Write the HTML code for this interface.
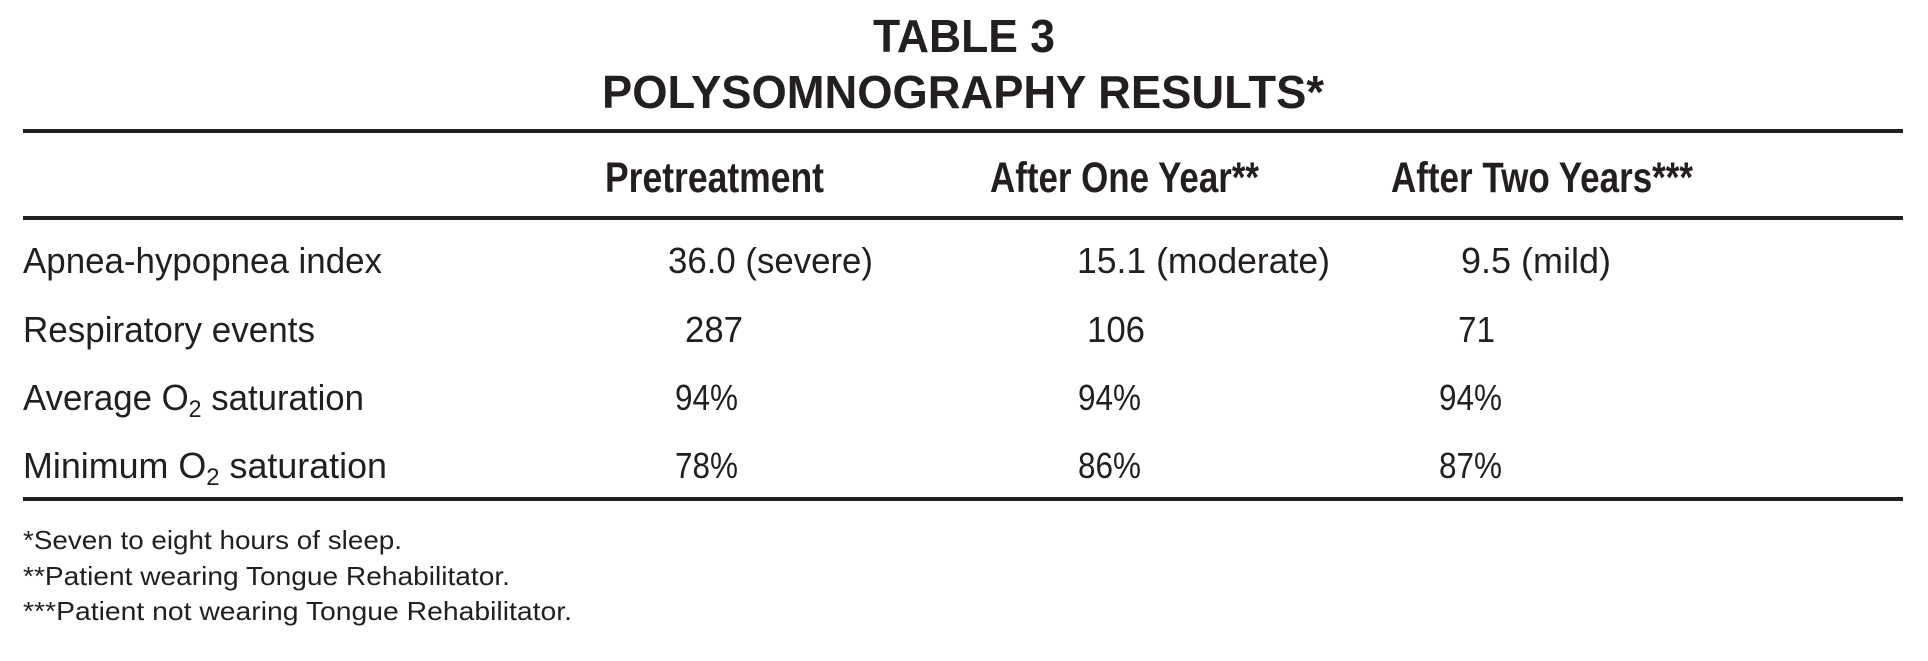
<!DOCTYPE html>
<html><head><meta charset="utf-8"><style>html,body{margin:0;padding:0;background:#fff}svg{display:block}</style></head><body>
<svg width="1928" height="661" xmlns="http://www.w3.org/2000/svg" font-family="Liberation Sans, sans-serif" fill="#231f20">
<text x="873" y="52" font-size="46" font-weight="bold" textLength="182" lengthAdjust="spacingAndGlyphs">TABLE 3</text>
<text x="602" y="108" font-size="46" font-weight="bold" textLength="722" lengthAdjust="spacingAndGlyphs">POLYSOMNOGRAPHY RESULTS*</text>
<rect x="23" y="129" width="1880" height="4"/>
<g font-size="43" font-weight="bold">
<text x="605" y="192" textLength="219" lengthAdjust="spacingAndGlyphs">Pretreatment</text>
<text x="990" y="192" textLength="269" lengthAdjust="spacingAndGlyphs">After One Year**</text>
<text x="1391" y="192" textLength="302" lengthAdjust="spacingAndGlyphs">After Two Years***</text>
</g>
<rect x="23" y="216" width="1880" height="4"/>
<g font-size="36">
<text x="23" y="273" textLength="359" lengthAdjust="spacingAndGlyphs">Apnea-hypopnea index</text>
<text x="668" y="273" textLength="205" lengthAdjust="spacingAndGlyphs">36.0 (severe)</text>
<text x="1077" y="273" textLength="253" lengthAdjust="spacingAndGlyphs">15.1 (moderate)</text>
<text x="1461" y="273" textLength="150" lengthAdjust="spacingAndGlyphs">9.5 (mild)</text>
<text x="23" y="342" textLength="292" lengthAdjust="spacingAndGlyphs">Respiratory events</text>
<text x="685" y="342" textLength="58" lengthAdjust="spacingAndGlyphs">287</text>
<text x="1087" y="342" textLength="58" lengthAdjust="spacingAndGlyphs">106</text>
<text x="1458" y="342" textLength="37" lengthAdjust="spacingAndGlyphs">71</text>
<text x="23" y="410" textLength="341" lengthAdjust="spacingAndGlyphs">Average O<tspan font-size="24" dy="7">2</tspan><tspan dy="-7"> saturation</tspan></text>
<text x="675" y="410" textLength="63" lengthAdjust="spacingAndGlyphs">94%</text>
<text x="1078" y="410" textLength="63" lengthAdjust="spacingAndGlyphs">94%</text>
<text x="1439" y="410" textLength="63" lengthAdjust="spacingAndGlyphs">94%</text>
<text x="23" y="478" textLength="364" lengthAdjust="spacingAndGlyphs">Minimum O<tspan font-size="24" dy="7">2</tspan><tspan dy="-7"> saturation</tspan></text>
<text x="675" y="478" textLength="63" lengthAdjust="spacingAndGlyphs">78%</text>
<text x="1078" y="478" textLength="63" lengthAdjust="spacingAndGlyphs">86%</text>
<text x="1439" y="478" textLength="63" lengthAdjust="spacingAndGlyphs">87%</text>
</g>
<rect x="23" y="497" width="1880" height="4"/>
<g font-size="26">
<text x="23" y="549" textLength="379" lengthAdjust="spacingAndGlyphs">*Seven to eight hours of sleep.</text>
<text x="23" y="585" textLength="487" lengthAdjust="spacingAndGlyphs">**Patient wearing Tongue Rehabilitator.</text>
<text x="23" y="620" textLength="549" lengthAdjust="spacingAndGlyphs">***Patient not wearing Tongue Rehabilitator.</text>
</g>
</svg>
</body></html>
